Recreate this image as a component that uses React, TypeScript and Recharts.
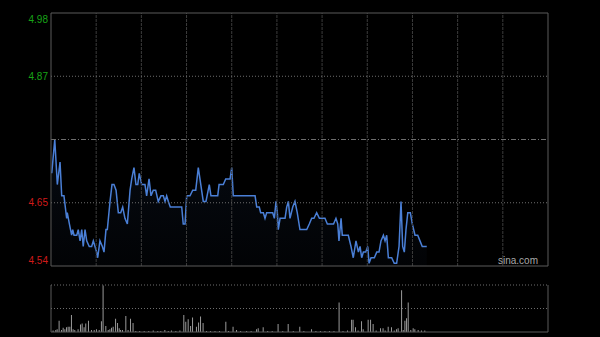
import {
  Area,
  Bar,
  ComposedChart,
  ReferenceLine,
  XAxis,
  YAxis,
} from "recharts";

// previous close, the +/- percentage ticks are taken from it
const prevClose = 4.76;
const pctSteps = [-0.0472, -0.0236, 0, 0.0236, 0.0472];
const priceTickLabels = ["4.54", "4.65", "", "4.87", "4.98"];
const pctTickLabels = ["-4.72%", "-2.36%", "", "+2.36%", "+4.72%"];

// trading minutes 9:30-12:00 + 13:00-16:00, grid line every half hour
const sessionMinutes = 330;
const timeGrid = [30, 60, 90, 120, 150, 180, 210, 240, 270, 300];

// [minute, price]
const priceTrack: [number, number][] = [
  [0.5, 4.7], [2.5, 4.76], [4.2, 4.68], [6, 4.72], [7.1, 4.66], [8.6, 4.66], [10.4, 4.62], [10.8, 4.63],
  [12.2, 4.61], [13.7, 4.59], [14.4, 4.6], [15.3, 4.59], [17.1, 4.59], [18.1, 4.6], [19.3, 4.58], [20.4, 4.6],
  [21.4, 4.57], [22.6, 4.6], [23.7, 4.58], [25.4, 4.57], [27, 4.57], [28.1, 4.58], [29.2, 4.57], [30.3, 4.56],
  [31, 4.55], [32.5, 4.58], [34.1, 4.57], [35.2, 4.56], [36.5, 4.6], [37.4, 4.6], [39.2, 4.65], [40.5, 4.68],
  [41.8, 4.68], [43.2, 4.67], [44.7, 4.63], [46.3, 4.63], [47.6, 4.64], [49.1, 4.62], [50.7, 4.61], [52.5, 4.67],
  [53.6, 4.69], [55.1, 4.71], [56.4, 4.68], [57.6, 4.68], [58.6, 4.7], [60.2, 4.68], [62.4, 4.68],
  [63.5, 4.66], [65.1, 4.69], [66.4, 4.66], [67.9, 4.67], [69.5, 4.67], [71.2, 4.65], [73, 4.66], [74.6, 4.66],
  [75.7, 4.65], [76.8, 4.66], [77.9, 4.65], [79.2, 4.64], [86.8, 4.64], [87.8, 4.61], [89, 4.61], [90.1, 4.66],
  [92.3, 4.66], [94.1, 4.67], [96.1, 4.67], [97.8, 4.71], [98.9, 4.69], [101.1, 4.65], [102.9, 4.65], [105.1, 4.68],
  [106.2, 4.66], [110.7, 4.66], [111.6, 4.68], [114.4, 4.68], [116, 4.69], [118.9, 4.69], [120, 4.71], [121, 4.66],
  [125.5, 4.66], [135.5, 4.66], [136.6, 4.64], [138.3, 4.64], [139.2, 4.63], [141, 4.63], [142.1, 4.62], [143.2, 4.63],
  [147.2, 4.63], [148.3, 4.62], [149.4, 4.65], [150.3, 4.63], [150.9, 4.6], [152.1, 4.62], [155.4, 4.62], [156.5, 4.64],
  [157.6, 4.65], [158.7, 4.62], [160.5, 4.64], [162, 4.65], [163.5, 4.63], [165.3, 4.6], [169.8, 4.6], [171.5, 4.61],
  [173.1, 4.62], [174.6, 4.62], [176.4, 4.63], [178.2, 4.62], [181.9, 4.62], [183.5, 4.61], [187.6, 4.61],
  [189.2, 4.62], [190.4, 4.61], [191.2, 4.58], [192.6, 4.62], [193.4, 4.59], [197.4, 4.59], [199.2, 4.57], [200.7, 4.55],
  [202.5, 4.58], [204.1, 4.56], [205.2, 4.57], [206.3, 4.55], [207.4, 4.56], [209, 4.56], [210.3, 4.57], [211.2, 4.54],
  [212.5, 4.55], [214.7, 4.55], [216.3, 4.56], [217.8, 4.56], [219.1, 4.58], [220.7, 4.59], [221.8, 4.58], [222.9, 4.59],
  [224, 4.55], [226.2, 4.55], [227.9, 4.54], [229.5, 4.54], [231.1, 4.57], [232.4, 4.65], [233.5, 4.57], [234.6, 4.56],
  [235.7, 4.6], [236.9, 4.63], [238.6, 4.63], [239.9, 4.61], [241.7, 4.59], [243.5, 4.59], [245, 4.58], [246.5, 4.57],
  [249.5, 4.57],
];

// [minute, volume] (relative units, 100 = top of the volume panel)
const volumeTrack: [number, number][] = [
  [1.5, 3], [3.3, 4], [4.2, 6], [5.5, 24], [7.1, 4], [8.2, 9], [9.3, 6], [10.4, 10], [11.5, 11], [12.6, 11],
  [13.7, 36], [14.8, 6], [15.9, 4], [18.1, 6], [19.7, 16], [20.8, 18], [22.1, 10], [23.2, 18], [25, 24], [27, 4],
  [28.8, 4], [30.3, 6], [32.1, 4], [33.6, 23], [34.7, 99], [36.5, 13], [38.1, 4], [39.2, 6], [40.3, 9], [41.4, 11],
  [43, 28], [44.3, 19], [45.4, 8], [46.3, 4], [47.6, 4], [49.8, 34], [51.3, 4], [52.9, 28], [54.6, 19], [56.4, 2],
  [59, 2], [62, 2], [65, 2], [68, 3], [71, 2], [73, 2], [75.7, 4], [78, 2], [80.1, 3], [83, 2], [85.7, 3],
  [88.3, 36], [89.6, 22], [91.2, 27], [92.8, 13], [94.1, 31], [96.7, 11], [98.1, 20], [99.4, 33], [101.1, 19],
  [103.4, 2], [106, 2], [109, 2], [112, 2], [116.2, 22], [118, 2], [121, 11], [123.3, 4], [126, 2], [130, 2],
  [133, 2], [136.6, 6], [137.7, 8], [141, 10], [144, 2], [147, 2], [150.9, 17], [154, 2], [157.6, 17], [161, 2],
  [165.3, 11], [168, 2], [173.1, 6], [176, 2], [179, 2], [182, 2], [185, 2], [188, 2], [191.4, 63], [194, 2],
  [197, 3], [199.7, 26], [200.7, 26], [202.3, 10], [204, 3], [206.3, 23], [207.4, 6], [210.7, 26], [212.3, 26],
  [214, 17], [216, 3], [218.9, 8], [220.6, 8], [222, 3], [224, 11], [226.2, 10], [228, 3], [229.5, 6], [230.6, 8],
  [232.9, 89], [234, 4], [235.1, 24], [236.2, 29], [237.3, 63], [239, 4], [240.6, 8], [241.7, 6], [243.9, 4],
  [246.1, 3], [248.3, 3],
];

const colors = {
  bg: "#000000",
  line: "#4a7fd6",
  up: "#17a417",
  down: "#d01a1a",
  border: "#5a5a5a",
  hGrid: "#6e6e6e",
  vGrid: "#3c3c3c",
  volume: "#9a9a9a",
  mark: "#a8a8a8",
};

const font = "Arial, 'Liberation Sans', sans-serif";

const priceTicks = pctSteps.map((s) => prevClose * (1 + s));
const priceDomain = [priceTicks[0], priceTicks[priceTicks.length - 1]];
const priceData = priceTrack.map(([m, p]) => ({ m, p }));
const volumeData = volumeTrack.map(([m, v]) => ({ m, v }));

function tickIndex(value: number) {
  let best = 0;
  priceTicks.forEach((t, i) => {
    if (Math.abs(t - value) < Math.abs(priceTicks[best] - value)) best = i;
  });
  return best;
}

function makeTick(labels: string[], anchor: "start" | "end") {
  return function SideTick(props: any) {
    const { x, y, payload } = props;
    const i = tickIndex(payload.value);
    const label = labels[i];
    if (!label) return null;
    const shift = i === 0 ? -6 : i === labels.length - 1 ? 6 : 0;
    return (
      <text
        x={x}
        y={y + shift}
        dy="0.35em"
        textAnchor={anchor}
        fill={payload.value > prevClose ? colors.up : colors.down}
        fontSize={10}
        fontFamily={font}
      >
        {label}
      </text>
    );
  };
}

const LeftTick = makeTick(priceTickLabels, "end");
const RightTick = makeTick(pctTickLabels, "start");

export default function App() {
  return (
    <div
      style={{
        position: "absolute",
        left: 0,
        top: 0,
        width: 600,
        height: 337,
        background: colors.bg,
        overflow: "hidden",
      }}
    >
      <div style={{ position: "absolute", left: 0, top: 0 }}>
        <ComposedChart width={600} height={280} data={priceData} margin={{ top: 13, right: 0, bottom: 14, left: 0 }}>
          <defs>
            <linearGradient id="priceFill" x1="0" y1="0" x2="0" y2="1">
              <stop offset="0%" stopColor={colors.line} stopOpacity={0.14} />
              <stop offset="100%" stopColor={colors.line} stopOpacity={0.04} />
            </linearGradient>
          </defs>
          <XAxis dataKey="m" type="number" domain={[0, sessionMinutes]} hide />
          <YAxis
            yAxisId="price"
            type="number"
            domain={priceDomain}
            ticks={priceTicks}
            interval={0}
            width={51}
            axisLine={false}
            tickLine={false}
            tickSize={0}
            tickMargin={3}
            tick={<LeftTick />}
          />
          <YAxis
            yAxisId="pct"
            orientation="right"
            type="number"
            domain={priceDomain}
            ticks={priceTicks}
            interval={0}
            width={52}
            axisLine={false}
            tickLine={false}
            tickSize={0}
            tickMargin={5}
            tick={<RightTick />}
          />
          {timeGrid.map((m) => (
            <ReferenceLine key={m} yAxisId="price" x={m} stroke={colors.vGrid} strokeDasharray="3 1" />
          ))}
          <ReferenceLine yAxisId="price" y={priceTicks[1]} stroke={colors.hGrid} strokeDasharray="1 2" />
          <ReferenceLine yAxisId="price" y={priceTicks[3]} stroke={colors.hGrid} strokeDasharray="1 2" />
          <ReferenceLine yAxisId="price" y={prevClose} stroke={colors.hGrid} strokeDasharray="5 2 1 2" />
          <Area
            yAxisId="price"
            type="linear"
            dataKey="p"
            stroke={colors.line}
            strokeWidth={1.5}
            fill="url(#priceFill)"
            dot={false}
            activeDot={false}
            isAnimationActive={false}
          />
          <ReferenceLine yAxisId="price" x={0} stroke={colors.border} />
          <ReferenceLine yAxisId="price" x={sessionMinutes} stroke={colors.border} />
          <ReferenceLine yAxisId="price" y={priceDomain[0]} stroke={colors.border} />
          <ReferenceLine yAxisId="price" y={priceDomain[1]} stroke={colors.border} />
        </ComposedChart>
      </div>

      <div
        style={{
          position: "absolute",
          left: 498,
          top: 256,
          fontFamily: font,
          fontSize: 10,
          lineHeight: "10px",
          color: colors.mark,
        }}
      >
        sina.com
      </div>

      <div style={{ position: "absolute", left: 0, top: 270 }}>
        <ComposedChart width={600} height={67} data={volumeData} margin={{ top: 15, right: 52, bottom: 5, left: 51 }}>
          <XAxis dataKey="m" type="number" domain={[0, sessionMinutes]} hide />
          <YAxis type="number" domain={[0, 100]} hide />
          <ReferenceLine y={100} stroke={colors.hGrid} strokeDasharray="1 2" />
          <ReferenceLine y={50} stroke={colors.hGrid} strokeDasharray="1 2" />
          <Bar dataKey="v" fill={colors.volume} barSize={1} isAnimationActive={false} />
          <ReferenceLine x={0} stroke={colors.border} />
          <ReferenceLine x={sessionMinutes} stroke={colors.border} />
          <ReferenceLine y={0} stroke={colors.border} />
        </ComposedChart>
      </div>
    </div>
  );
}
